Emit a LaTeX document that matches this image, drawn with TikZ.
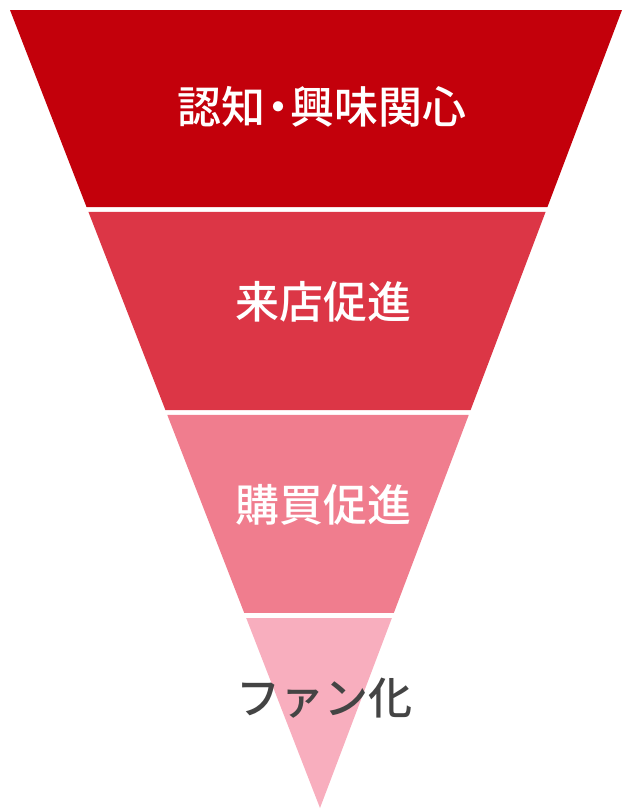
\documentclass[tikz,border=0pt]{standalone}
\usepackage{fontspec}
\setmainfont{Noto Sans CJK JP}[BoldFont={Noto Sans CJK JP Medium}]
\usetikzlibrary{calc}

\definecolor{stageA}{RGB}{195,0,11}
\definecolor{stageB}{RGB}{220,54,70}
\definecolor{stageC}{RGB}{240,125,142}
\definecolor{stageD}{RGB}{248,174,190}
\definecolor{darktext}{RGB}{68,68,68}

\begin{document}
\begin{tikzpicture}[x=1pt, y=-1pt,
    stagelabel/.style={font=\fontsize{44}{44}\selectfont\bfseries, text=white, inner sep=0pt}]
    \useasboundingbox (0,0) rectangle (629,809);

    % funnel outline
    \coordinate (tl) at (10,10);
    \coordinate (tr) at (622,10);
    \coordinate (apex) at (320,808);

    % bands, top to bottom
    \foreach \a/\b/\c in {0/0.2469/stageA, 0.2531/0.5013/stageB, 0.5075/0.7556/stageC, 0.7619/1/stageD}
        \fill[\c] ($(tl)!\a!(apex)$) -- ($(tr)!\a!(apex)$) -- ($(tr)!\b!(apex)$) -- ($(tl)!\b!(apex)$) -- cycle;

    \node[stagelabel] (aware) at (322,107) {認知\makebox[0.55em]{・}興味関心};
    \node[stagelabel] (visit) at (323,302) {来店促進};
    \node[stagelabel] (buy) at (323,505) {購買促進};
    \node[stagelabel, text=darktext] (fan) at (324,698) {ファン化};
\end{tikzpicture}
\end{document}
